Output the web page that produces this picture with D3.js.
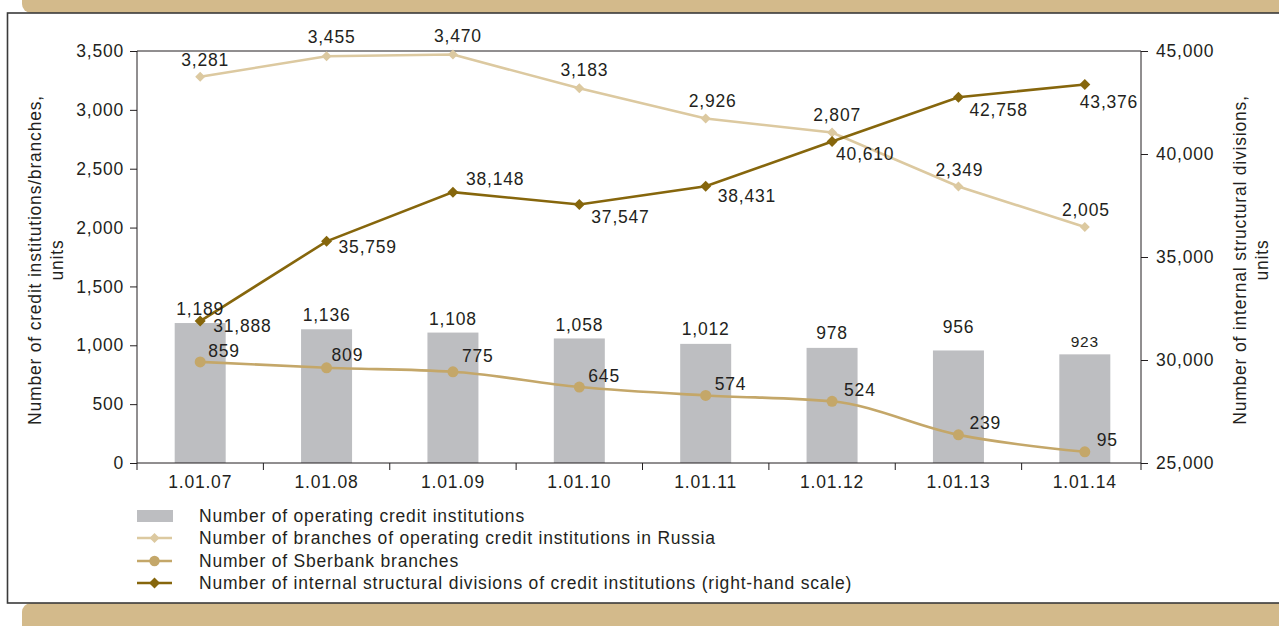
<!DOCTYPE html>
<html><head><meta charset="utf-8">
<script src="https://cdn.jsdelivr.net/npm/d3@7"></script>
<style>
html,body{margin:0;padding:0;background:#fff;}
svg{display:block;font-family:"Liberation Sans",Arial,Helvetica,sans-serif;}
svg text{letter-spacing:0.8px;}
</style></head>
<body>
<svg id="chart" width="1279" height="626"></svg>
<script>
// ---- data ----
const categories = ["1.01.07","1.01.08","1.01.09","1.01.10","1.01.11","1.01.12","1.01.13","1.01.14"];
const institutions = [1189, 1136, 1108, 1058, 1012, 978, 956, 923];
const branches = [3281, 3455, 3470, 3183, 2926, 2807, 2349, 2005];
const sberbank = [859, 809, 775, 645, 574, 524, 239, 95];
const divisions = [31888, 35759, 38148, 37547, 38431, 40610, 42758, 43376];
const leftTicks = [0, 500, 1000, 1500, 2000, 2500, 3000, 3500];
const rightTicks = [25000, 30000, 35000, 40000, 45000];
const legendLabels = [
  "Number of operating credit institutions",
  "Number of branches of operating credit institutions in Russia",
  "Number of Sberbank branches",
  "Number of internal structural divisions of credit institutions (right-hand scale)"
];

// ---- label placement (style) ----
const FS = "17.5px";
const barLabelDy = [-14, -14, -14, -14, -15, -15, -24, -13];
const branchLabelOff = [[5,-17],[5,-19],[5,-19],[5,-18],[7,-18],[5,-18],[1,-17],[1,-17]];
const sberLabelOff = [[8,-11],[5,-13],[9,-16],[9,-11],[9,-12],[12,-11],[11,-12],[12,-12]];
const divLabelOff = [[13,5],[12,6],[13,-13],[12,12],[12,10],[4,12],[11,13],[-5,17]];

const C = {tan:"#d3ba8b", bar:"#bdbec1", light:"#dcc9a0", mid:"#c4a769", dark:"#86660c", text:"#231f20", frame:"#3a3a3a"};
const fmt = d3.format(",");
const svg = d3.select("#chart");

// frame
svg.append("rect").attr("x",22).attr("y",-20).attr("width",1290).attr("height",33).attr("rx",9).attr("fill",C.tan);
svg.append("rect").attr("x",22).attr("y",603).attr("width",1290).attr("height",45).attr("rx",9).attr("fill",C.tan);
svg.append("rect").attr("x",7.5).attr("y",13).attr("width",1290).attr("height",590).attr("fill","#fff").attr("stroke",C.frame).attr("stroke-width",1.6);

const L = 137, R = 1141, T = 51, B = 463;
const x = d3.scaleBand().domain(categories).range([137, 1148]).padding(0);
const yL = d3.scaleLinear().domain([0, 3500]).range([B, T]);
const yR = d3.scaleLinear().domain([25000, 45000]).range([B, T]);
const cx = d => x(d) + x.bandwidth()/2;
const barW = 51;

// bars
svg.append("g").selectAll("rect").data(institutions).join("rect")
  .attr("x",(d,i)=>cx(categories[i]) - barW/2).attr("width",barW)
  .attr("y",d=>yL(d)).attr("height",d=>B - yL(d)).attr("fill",C.bar);

// axes
const axL = svg.append("g").attr("transform",`translate(${L},0)`)
  .call(d3.axisLeft(yL).tickValues(leftTicks).tickFormat(fmt).tickSize(7).tickPadding(6));
const axR = svg.append("g").attr("transform",`translate(${R},0)`)
  .call(d3.axisRight(yR).tickValues(rightTicks).tickFormat(fmt).tickSize(7).tickPadding(8));
[axL, axR].forEach(a=>{
  a.select(".domain").remove();
  a.selectAll("line").attr("stroke",C.text);
  a.selectAll("text").attr("fill",C.text).style("font-size",FS).style("font-family","'Liberation Sans',Arial,sans-serif");
});
// plot frame lines
svg.append("line").attr("x1",L).attr("x2",L).attr("y1",T).attr("y2",B+7).attr("stroke",C.text);
svg.append("line").attr("x1",R).attr("x2",R).attr("y1",T).attr("y2",B+7).attr("stroke",C.text);
svg.append("line").attr("x1",L).attr("x2",R).attr("y1",T).attr("y2",T).attr("stroke",C.text);
svg.append("line").attr("x1",L).attr("x2",R).attr("y1",B).attr("y2",B).attr("stroke",C.text);
// x boundary ticks
svg.append("g").selectAll("line").data(categories.slice(1)).join("line")
  .attr("x1",d=>x(d)).attr("x2",d=>x(d)).attr("y1",B).attr("y2",B+7).attr("stroke",C.text);
svg.append("g").selectAll("text").data(categories).join("text")
  .attr("x",d=>cx(d)).attr("y",B+25).attr("text-anchor","middle")
  .attr("fill",C.text).style("font-size",FS).text(d=>d);

// axis titles
function vtitle(xp, lines, yc){
  const g = svg.append("text").attr("transform",`translate(${xp},${yc}) rotate(-90)`)
    .attr("text-anchor","middle").attr("fill",C.text).style("font-size",FS);
  lines.forEach((t,i)=>g.append("tspan").attr("x",0).attr("dy",i?22:0).text(t));
}
vtitle(41, ["Number of credit institutions/branches,","units"], 260);
vtitle(1246, ["Number of internal structural divisions,","units"], 260);

// lines
const diamondPath = r => `M0,${-r}L${r},0L0,${r}L${-r},0Z`;
function series(vals, scale, color, curve, marker, size){
  const line = d3.line().x((d,i)=>cx(categories[i])).y(d=>scale(d)).curve(curve);
  svg.append("path").datum(vals).attr("d",line).attr("fill","none").attr("stroke",color).attr("stroke-width",2.6);
  const g = svg.append("g");
  vals.forEach((v,i)=>{
    const px = cx(categories[i]), py = scale(v);
    if(marker==="circle") g.append("circle").attr("cx",px).attr("cy",py).attr("r",size).attr("fill",color);
    else g.append("path").attr("d",diamondPath(size)).attr("transform",`translate(${px},${py})`).attr("fill",color);
  });
}
series(branches, yL, C.light, d3.curveLinear, "diamond", 5);
series(sberbank, yL, C.mid, d3.curveMonotoneX, "circle", 5.5);
series(divisions, yR, C.dark, d3.curveLinear, "diamond", 5.5);

// labels
const lab = svg.append("g").attr("fill",C.text).style("font-size",FS);
institutions.forEach((v,i)=>{
  lab.append("text").attr("x",cx(categories[i])).attr("y",yL(v)+barLabelDy[i]).attr("dy","0.35em")
    .attr("text-anchor","middle").style("font-size", i===7?"15.5px":FS).text(fmt(v));
});
branches.forEach((v,i)=>{
  lab.append("text").attr("x",cx(categories[i])+branchLabelOff[i][0]).attr("y",yL(v)+branchLabelOff[i][1]).attr("dy","0.35em")
    .attr("text-anchor","middle").text(fmt(v));
});
sberbank.forEach((v,i)=>{
  lab.append("text").attr("x",cx(categories[i])+sberLabelOff[i][0]).attr("y",yL(v)+sberLabelOff[i][1]).attr("dy","0.35em")
    .attr("text-anchor","start").text(fmt(v));
});
divisions.forEach((v,i)=>{
  lab.append("text").attr("x",cx(categories[i])+divLabelOff[i][0]).attr("y",yR(v)+divLabelOff[i][1]).attr("dy","0.35em")
    .attr("text-anchor","start").text(fmt(v));
});

// legend
const lg = svg.append("g");
const rowY = [516, 538, 561, 583];
lg.append("rect").attr("x",137).attr("y",rowY[0]-6).attr("width",36).attr("height",12).attr("fill",C.bar);
[[C.light,"diamond",5],[C.mid,"circle",5.2],[C.dark,"diamond",5.5]].forEach((s,k)=>{
  const yy = rowY[k+1];
  lg.append("line").attr("x1",137).attr("x2",172).attr("y1",yy).attr("y2",yy).attr("stroke",s[0]).attr("stroke-width",2.6);
  if(s[1]==="circle") lg.append("circle").attr("cx",154.5).attr("cy",yy).attr("r",s[2]).attr("fill",s[0]);
  else lg.append("path").attr("d",diamondPath(s[2])).attr("transform",`translate(154.5,${yy})`).attr("fill",s[0]);
});
legendLabels.forEach((t,i)=>{
  lg.append("text").attr("x",199).attr("y",rowY[i]).attr("dy","0.35em").attr("fill",C.text)
    .style("font-size",FS).text(t);
});
</script>
</body></html>
